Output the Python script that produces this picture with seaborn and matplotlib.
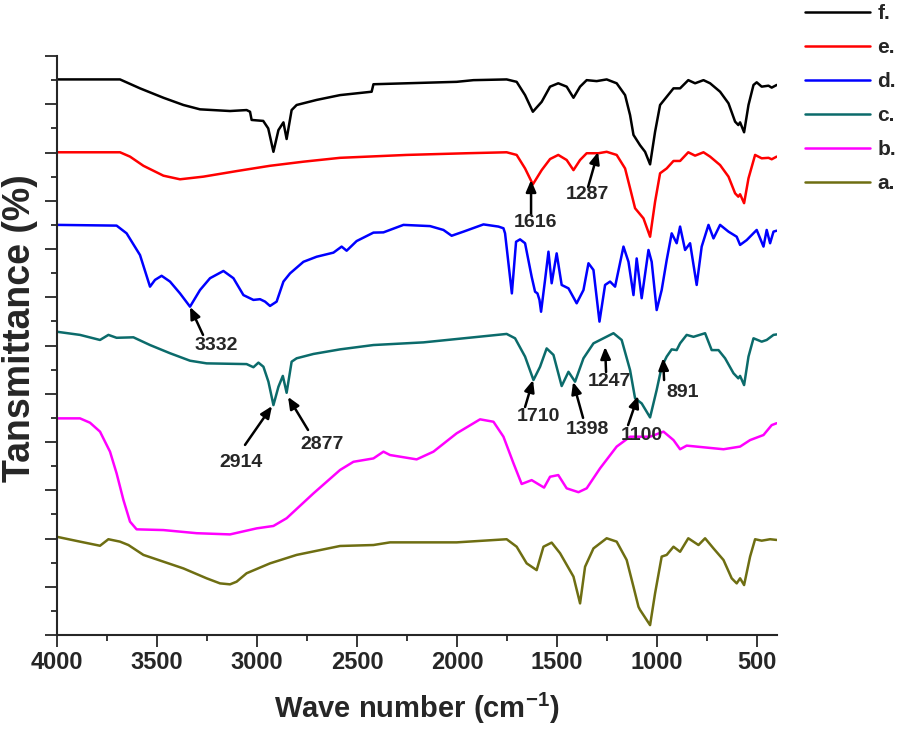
import numpy as np
import pandas as pd
import seaborn as sns
import matplotlib.pyplot as plt
from matplotlib.ticker import MultipleLocator

# FTIR spectra (wavenumber in cm-1, offset transmittance)
wn_f = [4000, 3685, 3585, 3468, 3368, 3285, 3135, 3052, 3035, 3027, 2969, 2944, 2918, 2893,
        2868, 2852, 2827, 2802, 2702, 2585, 2427, 2418, 2252, 2002, 1918, 1752, 1702, 1660,
        1621, 1577, 1535, 1494, 1452, 1418, 1385, 1352, 1302, 1252, 1202, 1160, 1135, 1118,
        1085, 1060, 1035, 1010, 985, 952, 918, 885, 844, 810, 768, 735, 685, 643, 610, 594,
        585, 565, 543, 518, 502, 477, 443, 427, 402]
t_f = [23.03, 23.03, 22.66, 22.27, 21.97, 21.79, 21.72, 21.76, 21.69, 21.35, 21.31, 21.0, 20.03,
       20.93, 21.25, 20.56, 21.76, 21.97, 22.18, 22.38, 22.52, 22.83, 22.87, 22.93, 23.0, 23.03,
       22.93, 22.38, 21.69, 22.1, 22.73, 22.87, 22.73, 22.27, 22.73, 23.0, 22.96, 23.03, 22.87,
       22.38, 21.55, 20.73, 20.3, 20.03, 19.51, 20.86, 21.97, 22.31, 22.66, 22.66, 23.0, 22.87,
       23.0, 22.87, 22.52, 22.04, 21.28, 21.14, 21.25, 20.84, 21.97, 22.8, 22.91, 22.73, 22.77,
       22.69, 22.8]

wn_e = [4000, 3685, 3635, 3568, 3468, 3385, 3268, 3102, 2935, 2768, 2585, 2252, 1952, 1752,
        1702, 1660, 1621, 1577, 1535, 1494, 1452, 1418, 1385, 1352, 1293, 1252, 1202, 1160,
        1135, 1110, 1068, 1035, 1010, 985, 952, 918, 885, 844, 810, 768, 735, 685, 643, 610,
        594, 585, 565, 543, 510, 477, 443, 427, 402]
t_e = [20.01, 20.01, 19.83, 19.45, 19.04, 18.89, 19.0, 19.23, 19.45, 19.62, 19.78, 19.9, 19.97,
       20.01, 19.9, 19.34, 18.68, 19.27, 19.73, 19.9, 19.69, 19.27, 19.69, 19.97, 19.97, 20.03,
       19.9, 19.34, 18.52, 17.69, 17.27, 16.51, 17.96, 19.14, 19.34, 19.65, 19.65, 20.01, 19.87,
       20.01, 19.83, 19.48, 19.0, 18.31, 18.17, 18.27, 17.9, 18.93, 19.9, 19.76, 19.78, 19.72,
       19.83]

wn_d = [4000, 3702, 3652, 3585, 3535, 3510, 3477, 3435, 3385, 3335, 3285, 3235, 3168, 3118,
        3068, 3018, 2985, 2960, 2935, 2902, 2868, 2835, 2768, 2702, 2618, 2577, 2552, 2502,
        2418, 2368, 2268, 2135, 2068, 2027, 1968, 1868, 1793, 1768, 1760, 1726, 1705, 1685,
        1660, 1627, 1610, 1598, 1588, 1580, 1560, 1543, 1527, 1502, 1477, 1443, 1402, 1368,
        1343, 1318, 1288, 1260, 1235, 1210, 1168, 1143, 1118, 1102, 1077, 1043, 1027, 1002,
        977, 952, 927, 902, 885, 860, 835, 802, 777, 743, 718, 685, 643, 602, 585, 552, 502,
        468, 452, 435, 418, 402]
t_d = [17.0, 16.97, 16.65, 15.75, 14.44, 14.72, 14.89, 14.65, 14.16, 13.61, 14.3, 14.79, 15.09,
       14.79, 14.09, 13.89, 13.92, 13.82, 13.64, 13.82, 14.65, 14.99, 15.47, 15.68, 15.85, 16.1,
       15.93, 16.33, 16.68, 16.69, 17.0, 16.95, 16.79, 16.55, 16.72, 17.02, 16.93, 16.86, 16.65,
       14.16, 16.3, 16.4, 16.24, 14.85, 14.23, 14.16, 13.89, 13.4, 14.72, 15.89, 14.58, 15.82,
       14.51, 14.37, 13.75, 14.3, 15.41, 15.13, 12.99, 14.51, 14.65, 14.44, 16.1, 15.47, 14.09,
       15.61, 13.96, 15.96, 15.47, 13.47, 14.3, 15.54, 16.65, 16.24, 16.93, 15.96, 16.24, 14.51,
       16.1, 17.0, 16.44, 17.0, 16.72, 16.51, 16.17, 16.37, 16.79, 16.1, 16.79, 16.24, 16.72,
       16.76]

wn_c = [4000, 3885, 3785, 3743, 3702, 3618, 3535, 3435, 3335, 3252, 3052, 3018, 2993, 2968,
        2943, 2918, 2893, 2871, 2852, 2827, 2802, 2718, 2585, 2418, 2168, 1918, 1752, 1710,
        1660, 1618, 1585, 1552, 1518, 1477, 1443, 1410, 1368, 1318, 1268, 1218, 1177, 1135,
        1110, 1077, 1035, 1002, 977, 952, 927, 902, 885, 852, 818, 760, 727, 693, 660, 618,
        594, 585, 565, 543, 518, 477, 452, 418, 402]
t_c = [12.57, 12.44, 12.23, 12.44, 12.32, 12.34, 12.02, 11.68, 11.37, 11.26, 11.23, 11.1, 11.29,
       11.12, 10.5, 9.53, 10.29, 10.74, 10.04, 11.33, 11.47, 11.65, 11.84, 12.02, 12.13, 12.34,
       12.48, 12.3, 11.54, 10.57, 11.12, 11.88, 11.61, 10.32, 10.91, 10.5, 11.47, 12.09, 12.3,
       12.51, 12.23, 10.98, 9.81, 9.6, 9.02, 10.16, 11.12, 11.54, 11.84, 11.81, 12.09, 12.44,
       12.36, 12.51, 11.81, 11.81, 11.47, 10.85, 10.64, 10.74, 10.36, 11.54, 12.3, 12.16, 12.23,
       12.44, 12.46]

wn_b = [4000, 3885, 3835, 3785, 3735, 3702, 3668, 3635, 3602, 3468, 3302, 3135, 3002, 2918,
        2852, 2718, 2585, 2518, 2418, 2368, 2335, 2202, 2118, 2002, 1885, 1818, 1768, 1718,
        1677, 1627, 1565, 1535, 1494, 1452, 1393, 1352, 1285, 1202, 1135, 1085, 1035, 968, 918,
        885, 852, 668, 585, 535, 468, 427, 402]
t_b = [8.98, 8.98, 8.8, 8.43, 7.6, 6.7, 5.6, 4.7, 4.38, 4.35, 4.22, 4.17, 4.42, 4.52, 4.84, 5.87,
       6.84, 7.18, 7.32, 7.6, 7.46, 7.28, 7.6, 8.36, 8.94, 8.84, 8.22, 7.12, 6.26, 6.42, 6.11,
       6.56, 6.63, 6.08, 5.92, 6.08, 6.91, 7.81, 8.22, 8.22, 8.22, 8.43, 8.08, 7.7, 7.85, 7.7,
       7.81, 8.08, 8.29, 8.7, 8.78]

wn_a = [4000, 3885, 3785, 3743, 3685, 3643, 3568, 3468, 3368, 3252, 3185, 3135, 3102, 3052,
        2935, 2802, 2585, 2418, 2335, 2002, 1752, 1702, 1652, 1602, 1568, 1527, 1485, 1418,
        1385, 1360, 1318, 1252, 1202, 1152, 1118, 1093, 1085, 1035, 1010, 977, 952, 918, 885,
        844, 793, 760, 718, 668, 627, 602, 585, 565, 535, 510, 477, 435, 402]
t_a = [4.07, 3.87, 3.7, 3.97, 3.87, 3.73, 3.32, 3.04, 2.76, 2.35, 2.14, 2.1, 2.21, 2.56, 2.97,
       3.32, 3.69, 3.73, 3.84, 3.84, 3.97, 3.66, 2.97, 2.69, 3.66, 3.83, 3.39, 2.42, 1.31, 2.83,
       3.59, 4.01, 3.87, 3.11, 2.0, 1.17, 1.04, 0.41, 1.73, 3.25, 3.32, 3.66, 3.45, 4.01, 3.73,
       4.01, 3.59, 3.11, 2.35, 2.14, 2.35, 2.07, 3.25, 3.97, 3.91, 3.97, 3.94]

samples = ['f.', 'e.', 'd.', 'c.', 'b.', 'a.']
colors = ['#000000', '#ff0000', '#0000ff', '#0b6b6b', '#ff00ff', '#6e6e12']

# peak labels: text, arrow tip (wn, T), arrow tail (wn, T), text centre (wn, T)
peak_labels = ['1616', '1287', '3332', '2914', '2877', '1710', '1398', '1247', '1100', '891']
peak_tip = [(1630, 18.86), (1295, 20.02), (3335, 13.6), (2925, 9.49), (2845, 9.87),
            (1620, 10.57), (1420, 10.49), (1260, 11.94), (1095, 9.91), (970, 11.48)]
peak_tail = [(1630, 17.41), (1345, 18.57), (3270, 12.44), (3060, 7.88), (2745, 8.5),
             (1660, 9.45), (1370, 9.0), (1255, 10.9), (1145, 8.7), (965, 10.57)]
peak_text = [(1610, 17.08), (1350, 18.28), (3205, 12.02), (3080, 7.17), (2675, 7.88),
             (1595, 9.04), (1350, 8.5), (1240, 10.49), (1075, 8.29), (870, 10.07)]

sns.set_style('ticks')
plt.rcParams['font.family'] = ['Liberation Sans', 'DejaVu Sans']
plt.rcParams['mathtext.fontset'] = 'custom'
plt.rcParams['mathtext.bf'] = 'Liberation Sans:bold'
plt.rcParams['mathtext.rm'] = 'Liberation Sans:bold'

spectra = [(wn_f, t_f), (wn_e, t_e), (wn_d, t_d), (wn_c, t_c), (wn_b, t_b), (wn_a, t_a)]
df = pd.concat([pd.DataFrame({'wn': w, 'T': t, 'sample': s})
                for (w, t), s in zip(spectra, samples)], ignore_index=True)

fig = plt.figure(figsize=(8.99, 7.42), dpi=100)
ax = fig.add_axes([0.0634, 0.1442, 0.8010, 0.7803])

sns.lineplot(data=df, x='wn', y='T', hue='sample', hue_order=samples,
             palette=colors, sort=False, estimator=None, lw=1.8, ax=ax)

for lab, tip, tail, txt in zip(peak_labels, peak_tip, peak_tail, peak_text):
    ax.annotate('', xy=tip, xytext=tail,
                arrowprops=dict(arrowstyle='-|>,head_length=0.7,head_width=0.3',
                                color='black', lw=1.8, shrinkA=0, shrinkB=0))
    ax.text(txt[0], txt[1], lab, ha='center', va='center', fontsize=14, fontweight='bold')

ax.set_xlim(4000, 400)
ax.set_ylim(0, 24)
ax.xaxis.set_major_locator(MultipleLocator(500))
ax.xaxis.set_minor_locator(MultipleLocator(250))
ax.yaxis.set_major_locator(MultipleLocator(2))
ax.yaxis.set_minor_locator(MultipleLocator(1))
ax.tick_params(which='major', direction='out', length=8.5, width=1.3)
ax.tick_params(which='minor', direction='out', length=4.3, width=1.3)
ax.tick_params(axis='y', labelleft=False)
ax.tick_params(axis='x', pad=3)
for lbl in ax.get_xticklabels():
    lbl.set_fontsize(17)
    lbl.set_fontweight('bold')

sns.despine(ax=ax)
for sp in ['left', 'bottom']:
    ax.spines[sp].set_linewidth(1.5)

ax.set_xlabel('Wave number (cm$^{-1}$)', fontsize=21, fontweight='bold', labelpad=12)
ax.set_ylabel('Tansmittance (%)', fontsize=27, fontweight='bold')
ax.yaxis.set_label_coords(-0.026, 0.53)

sns.move_legend(ax, 'upper left', bbox_to_anchor=(0.875, 1.02),
                bbox_transform=fig.transFigure, frameon=False, title=None,
                handlelength=3.1, handletextpad=0.35, labelspacing=0.72,
                prop={'weight': 'bold', 'size': 15})

fig.savefig('out.png', dpi=100)
